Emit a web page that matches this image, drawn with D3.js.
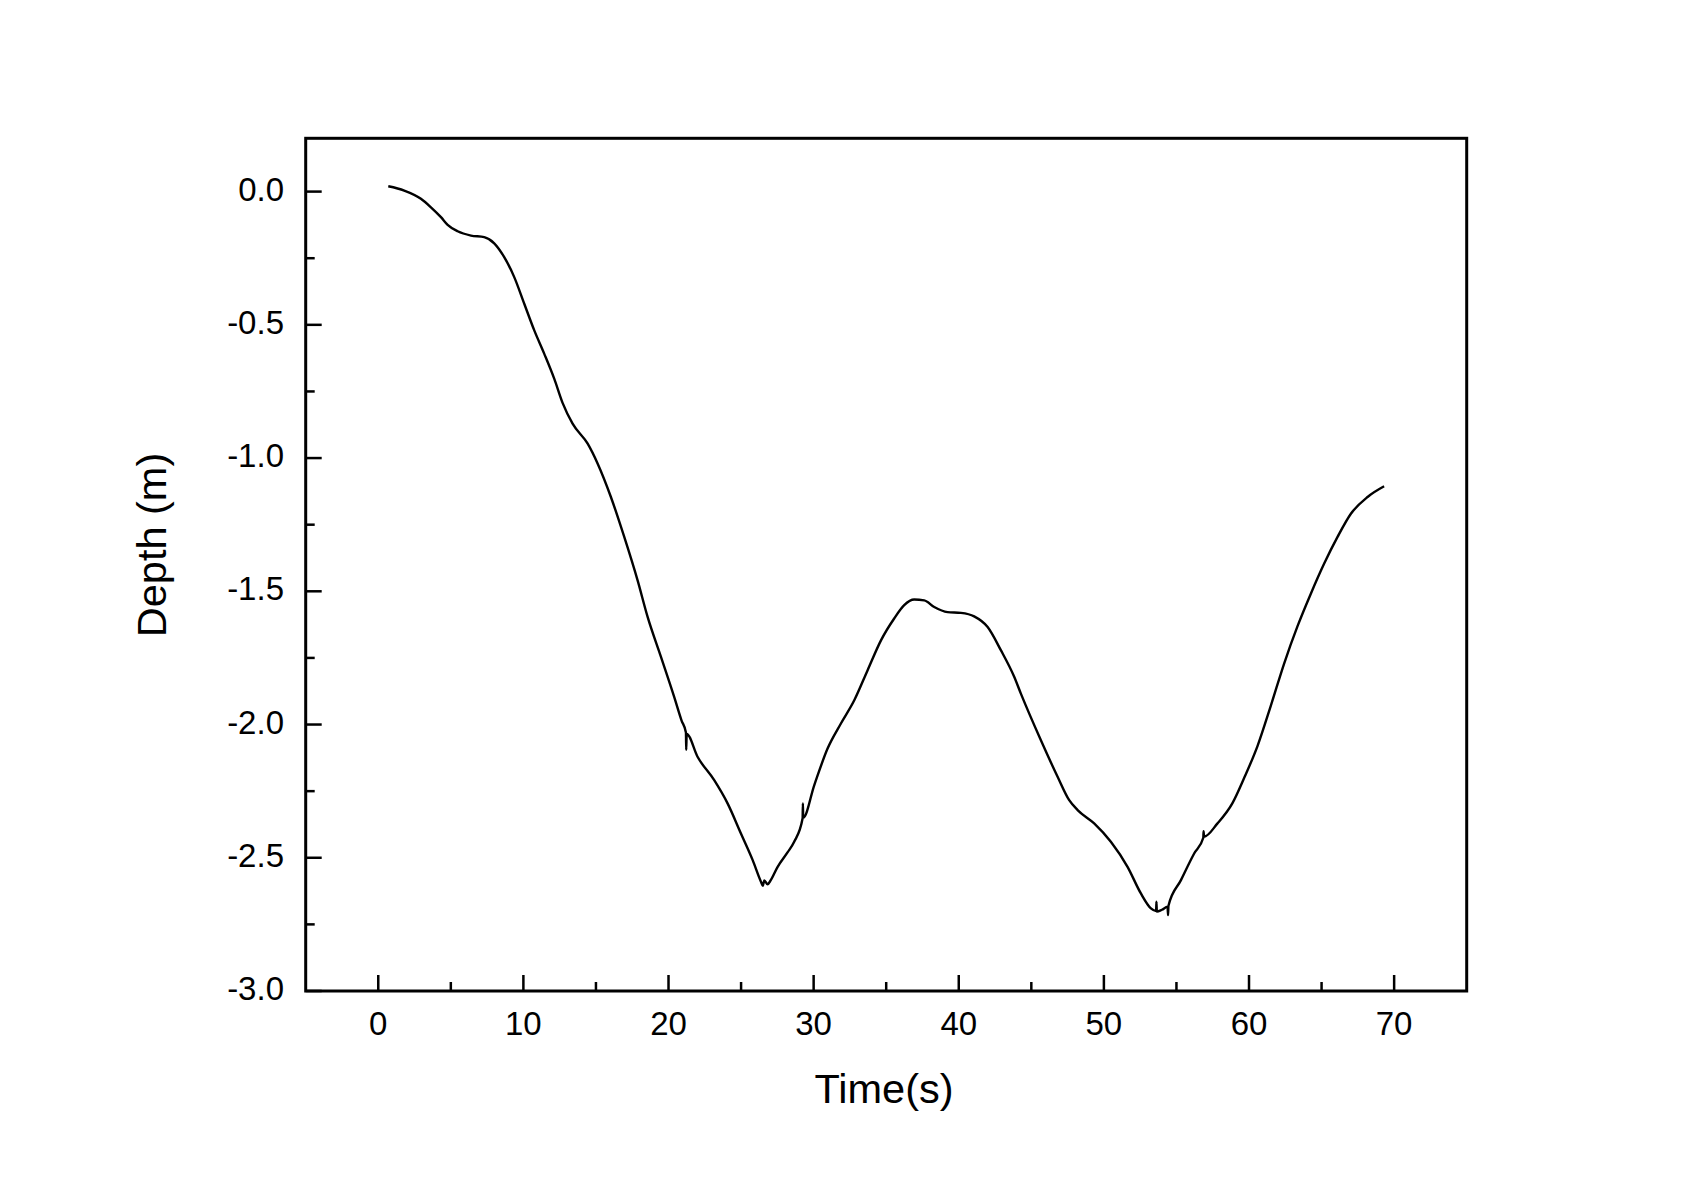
<!DOCTYPE html>
<html>
<head>
<meta charset="utf-8">
<script src="https://cdn.jsdelivr.net/npm/d3@7"></script>
<style>
  html, body { margin: 0; padding: 0; background: #fff; }
  svg { display: block; }
  text { font-family: "Liberation Sans", Arial, sans-serif; fill: #000; }
</style>
</head>
<body>
<svg id="chart" width="1702" height="1188"></svg>
<script>
// Data
const time = [0.69, 1.79, 2.94, 3.63, 4.32, 4.78, 5.47, 6.39, 7.30, 7.99, 8.68, 9.37, 10.06, 10.75, 11.44, 12.13, 12.70, 13.39, 14.43, 15.12, 16.03, 16.95, 17.87, 18.56, 19.48, 20.39, 20.9, 21.20, 21.22, 21.25, 22.0, 23.15, 24.07, 24.99, 25.80, 26.37, 26.5, 26.6, 26.83, 27.0, 27.52, 28.2, 28.66, 29.24, 29.26, 29.28, 30.04, 30.96, 31.88, 32.80, 33.72, 34.64, 35.55, 36.24, 36.93, 37.62, 38.31, 39.23, 40.15, 41.06, 41.99, 42.90, 43.82, 44.28, 45.66, 46.81, 47.61, 48.19, 49.33, 50.48, 51.63, 52.55, 53.24, 53.6, 53.62, 53.65, 54.0, 54.39, 54.42, 54.45, 55.31, 56.22, 56.85, 56.87, 56.9, 57.83, 58.85, 59.67, 60.59, 61.50, 62.42, 63.35, 64.26, 65.18, 66.10, 67.02, 68.17, 69.31];
const depth = [0.020, 0.004, -0.027, -0.059, -0.096, -0.125, -0.149, -0.165, -0.171, -0.194, -0.246, -0.321, -0.421, -0.521, -0.609, -0.703, -0.793, -0.871, -0.946, -1.021, -1.146, -1.296, -1.459, -1.596, -1.746, -1.896, -1.985, -2.030, -2.095, -2.035, -2.121, -2.209, -2.296, -2.409, -2.509, -2.590, -2.605, -2.585, -2.600, -2.588, -2.534, -2.480, -2.440, -2.352, -2.296, -2.350, -2.228, -2.090, -1.996, -1.909, -1.796, -1.684, -1.602, -1.552, -1.531, -1.534, -1.559, -1.578, -1.581, -1.594, -1.634, -1.721, -1.821, -1.884, -2.059, -2.196, -2.284, -2.321, -2.371, -2.440, -2.534, -2.634, -2.690, -2.700, -2.665, -2.702, -2.695, -2.684, -2.715, -2.680, -2.584, -2.484, -2.425, -2.400, -2.421, -2.371, -2.296, -2.200, -2.080, -1.930, -1.771, -1.630, -1.509, -1.396, -1.296, -1.209, -1.146, -1.106];

const xTickValues = [0, 10, 20, 30, 40, 50, 60, 70];
const xMinorTicks = [5, 15, 25, 35, 45, 55, 65];
const yTickValues = [0.0, -0.5, -1.0, -1.5, -2.0, -2.5, -3.0];
const yMinorTicks = [-0.25, -0.75, -1.25, -1.75, -2.25, -2.75];
const xLabel = "Time(s)";
const yLabel = "Depth (m)";

const svg = d3.select("#chart");
const L = 305.7, R = 1466.7, T = 138.3, B = 991;

const x = d3.scaleLinear().domain([-5, 75]).range([L, R]);
const y = d3.scaleLinear().domain([-3, 0.2]).range([B, T]);

const data = time.map((t, i) => ({t, d: depth[i]}));

// curve
svg.append("path")
  .datum(data)
  .attr("fill", "none")
  .attr("stroke", "#000")
  .attr("stroke-width", 2.4)
  .attr("stroke-linejoin", "round")
  .attr("d", d3.line().curve(d3.curveMonotoneX).x(p => x(p.t)).y(p => y(p.d)));

// x axis ticks (inward)
const gx = svg.append("g");
gx.selectAll("line.maj").data(xTickValues).join("line")
  .attr("x1", d => x(d)).attr("x2", d => x(d))
  .attr("y1", B).attr("y2", B - 16)
  .attr("stroke", "#000").attr("stroke-width", 2.5);
gx.selectAll("line.min").data(xMinorTicks).join("line")
  .attr("x1", d => x(d)).attr("x2", d => x(d))
  .attr("y1", B).attr("y2", B - 9)
  .attr("stroke", "#000").attr("stroke-width", 2.5);
gx.selectAll("text").data(xTickValues).join("text")
  .attr("x", d => x(d)).attr("y", 1035)
  .attr("text-anchor", "middle")
  .attr("font-size", 33)
  .text(d => d3.format("d")(d));

// y axis ticks
const gy = svg.append("g");
gy.selectAll("line.maj").data(yTickValues).join("line")
  .attr("y1", d => y(d)).attr("y2", d => y(d))
  .attr("x1", L).attr("x2", L + 16)
  .attr("stroke", "#000").attr("stroke-width", 2.5);
gy.selectAll("line.min").data(yMinorTicks).join("line")
  .attr("y1", d => y(d)).attr("y2", d => y(d))
  .attr("x1", L).attr("x2", L + 9)
  .attr("stroke", "#000").attr("stroke-width", 2.5);
gy.selectAll("text").data(yTickValues).join("text")
  .attr("x", 284).attr("y", d => y(d) + 9)
  .attr("text-anchor", "end")
  .attr("font-size", 33)
  .text(d => d3.format(".1f")(d).replace("−", "-"));

// frame
svg.append("rect")
  .attr("x", L).attr("y", T)
  .attr("width", R - L).attr("height", B - T)
  .attr("fill", "none").attr("stroke", "#000").attr("stroke-width", 3);

// titles
svg.append("text")
  .attr("x", 884).attr("y", 1103)
  .attr("text-anchor", "middle")
  .attr("font-size", 41.5)
  .text(xLabel);

svg.append("text")
  .attr("transform", "translate(166,545) rotate(-90)")
  .attr("text-anchor", "middle")
  .attr("font-size", 41.5)
  .text(yLabel);
</script>
</body>
</html>
